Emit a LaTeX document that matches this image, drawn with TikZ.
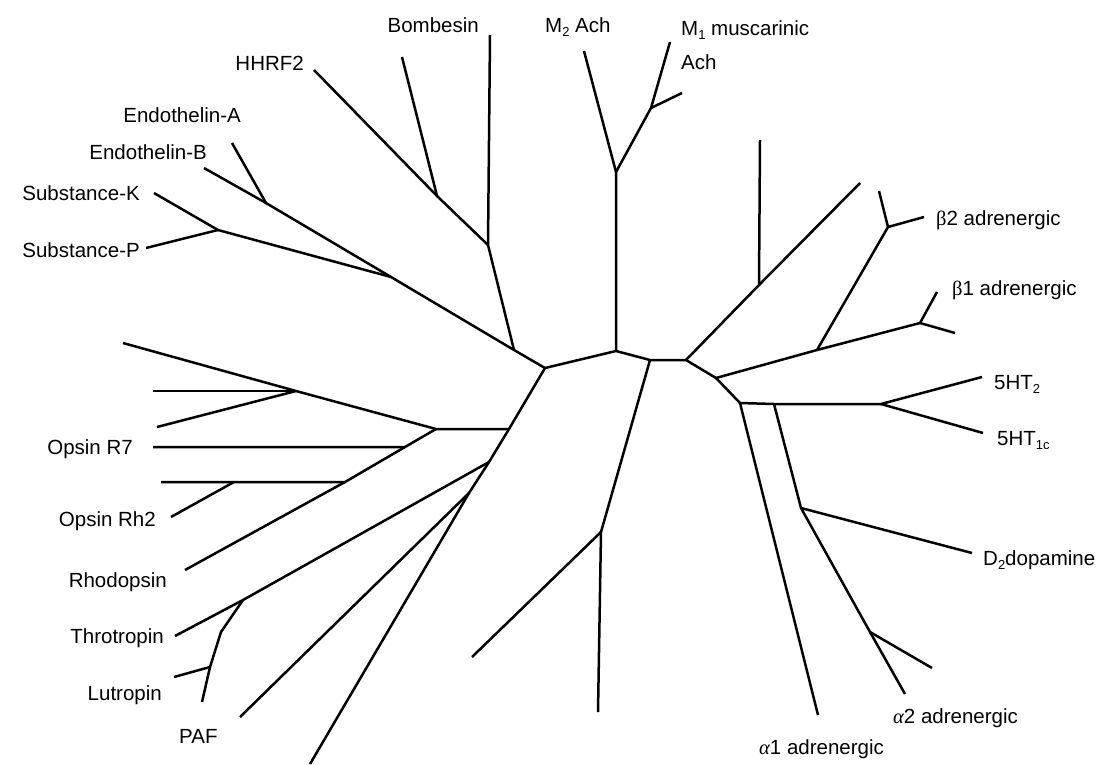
\documentclass[tikz,border=0pt]{standalone}
\usepackage{fontspec}
\setmainfont{Liberation Sans}
\newfontfamily\grk{Liberation Serif}
\newcommand{\lsub}[1]{\raisebox{-0.45ex}{\fontsize{13}{14}\selectfont #1}}
\begin{document}
\begin{tikzpicture}[x=1pt,y=-1pt,
  br/.style={line width=2.5pt,line join=round},
  lab/.style={inner sep=0pt,font=\fontsize{20.5}{24}\selectfont}]
\useasboundingbox (0,0) rectangle (1108,764);
% internal nodes
\coordinate (A) at (545,368);
\coordinate (B) at (616,351);
\coordinate (C) at (650,360);
\coordinate (D) at (686,360);
\coordinate (E) at (716,378);
\coordinate (F) at (740,403);
\coordinate (G) at (514,350);
\coordinate (H) at (488,245);
\coordinate (J) at (437,196);
\coordinate (I) at (391,277);
\coordinate (L) at (266,203);
\coordinate (K) at (218,230);
\coordinate (M) at (616,172);
\coordinate (N) at (651,108);
\coordinate (P) at (759,285);
\coordinate (Q) at (817,350);
\coordinate (R) at (888,227);
\coordinate (S) at (920,323);
\coordinate (U) at (774,404);
\coordinate (T) at (881,404);
\coordinate (V) at (801,508);
\coordinate (W) at (870,632);
\coordinate (X) at (601,532);
\coordinate (Y) at (509,429);
\coordinate (AA) at (489,462);
\coordinate (AB) at (469,493);
\coordinate (Z) at (436,429);
\coordinate (AC) at (296,391);
\coordinate (AD) at (405,447);
\coordinate (AE) at (345,482);
\coordinate (AF) at (234,482);
\coordinate (AG) at (243,600);
\coordinate (AH) at (221,632);
\coordinate (AI) at (210,667);
% leaf ends
\coordinate (bomb) at (490,35);
\coordinate (hhrf) at (314,70);
\coordinate (j2) at (402,57);
\coordinate (endB) at (204,168);
\coordinate (endA) at (232,143);
\coordinate (subK) at (154,193);
\coordinate (subP) at (146,248);
\coordinate (m2) at (584,51);
\coordinate (m1) at (670,42);
\coordinate (n2) at (682,93);
\coordinate (p1) at (760,140);
\coordinate (p2) at (860,183);
\coordinate (r1) at (879,191);
\coordinate (b2) at (924,217);
\coordinate (s1) at (937,292);
\coordinate (b1) at (955,333);
\coordinate (ht2) at (982,377);
\coordinate (ht1c) at (983,433);
\coordinate (a1) at (818,715);
\coordinate (d2) at (972,553);
\coordinate (w1) at (932,668);
\coordinate (a2) at (905,694);
\coordinate (x1) at (598,712);
\coordinate (x2) at (472,657);
\coordinate (bot) at (310,764);
\coordinate (ac1) at (123,343);
\coordinate (ac2) at (153,391);
\coordinate (ac3) at (157,427);
\coordinate (r7) at (153,447);
\coordinate (ae1) at (161,482);
\coordinate (rh2) at (171,517);
\coordinate (rho) at (185,570);
\coordinate (thr) at (175,636);
\coordinate (lu1) at (174,677);
\coordinate (lu2) at (202,702);
\coordinate (paf) at (240,717);
% edges
\draw[br] (A) -- (B) -- (C) -- (D) -- (E) -- (F);
\draw[br] (A) -- (G) -- (H) -- (bomb);
\draw[br] (H) -- (J) -- (hhrf);
\draw[br] (J) -- (j2);
\draw[br] (G) -- (I) -- (L) -- (endB);
\draw[br] (L) -- (endA);
\draw[br] (I) -- (K) -- (subK);
\draw[br] (K) -- (subP);
\draw[br] (B) -- (M) -- (m2);
\draw[br] (M) -- (N) -- (m1);
\draw[br] (N) -- (n2);
\draw[br] (D) -- (P) -- (p1);
\draw[br] (P) -- (p2);
\draw[br] (E) -- (Q) -- (R) -- (r1);
\draw[br] (R) -- (b2);
\draw[br] (Q) -- (S) -- (s1);
\draw[br] (S) -- (b1);
\draw[br] (F) -- (U) -- (T) -- (ht2);
\draw[br] (T) -- (ht1c);
\draw[br] (F) -- (a1);
\draw[br] (U) -- (V) -- (d2);
\draw[br] (V) -- (W) -- (w1);
\draw[br] (W) -- (a2);
\draw[br] (C) -- (X) -- (x1);
\draw[br] (X) -- (x2);
\draw[br] (A) -- (Y) -- (AA) -- (AB) -- (bot);
\draw[br] (Y) -- (Z) -- (AC) -- (ac1);
\draw[br] (AC) -- (ac2);
\draw[br] (AC) -- (ac3);
\draw[br] (Z) -- (AD) -- (r7);
\draw[br] (AD) -- (AE) -- (AF) -- (ae1);
\draw[br] (AF) -- (rh2);
\draw[br] (AE) -- (rho);
\draw[br] (AA) -- (AG) -- (thr);
\draw[br] (AG) -- (AH) -- (AI) -- (lu1);
\draw[br] (AI) -- (lu2);
\draw[br] (AB) -- (paf);
% labels
\node[lab,anchor=base east] (lBomb) at (479,32) {Bombesin};
\node[lab,anchor=base west] (lM2) at (545,32) {M\lsub{2} Ach};
\node[lab,anchor=base west] (lM1) at (681,35) {M\lsub{1} muscarinic};
\node[lab,anchor=base west] (lAch) at (681,69) {Ach};
\node[lab,anchor=base east] (lHH) at (304,70) {HHRF2};
\node[lab,anchor=base east] (lEA) at (241,122) {Endothelin-A};
\node[lab,anchor=base east] (lEB) at (207,159) {Endothelin-B};
\node[lab,anchor=base east] (lSK) at (140,200) {Substance-K};
\node[lab,anchor=base east] (lSP) at (140,257) {Substance-P};
\node[lab,anchor=base west] (lB2) at (936,225) {{\grk β}2 adrenergic};
\node[lab,anchor=base west] (lB1) at (952,295) {{\grk β}1 adrenergic};
\node[lab,anchor=base west] (lH2) at (994,389) {5HT\lsub{2}};
\node[lab,anchor=base west] (lH1) at (997,445) {5HT\lsub{1c}};
\node[lab,anchor=base west] (lD2) at (983,565) {D\lsub{2}dopamine};
\node[lab,anchor=base west] (lA2) at (893,723) {{\grk\itshape α}2 adrenergic};
\node[lab,anchor=base west] (lA1) at (759,754) {{\grk\itshape α}1 adrenergic};
\node[lab,anchor=base east] (lR7) at (133,454) {Opsin R7};
\node[lab,anchor=base east] (lRh2) at (156,526) {Opsin Rh2};
\node[lab,anchor=base east] (lRho) at (167,587) {Rhodopsin};
\node[lab,anchor=base east] (lThr) at (164,643) {Throtropin};
\node[lab,anchor=base east] (lLu) at (162,700) {Lutropin};
\node[lab,anchor=base west] (lPAF) at (179,743) {PAF};
\end{tikzpicture}
\end{document}
